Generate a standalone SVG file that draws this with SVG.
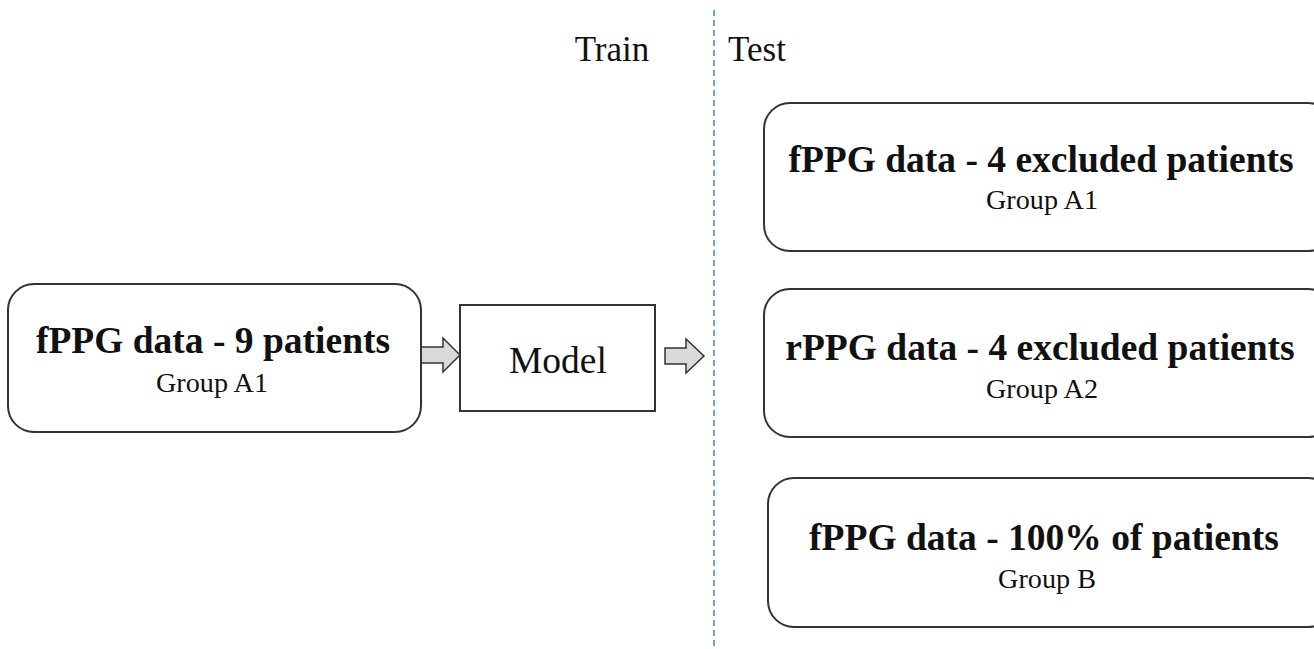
<svg xmlns="http://www.w3.org/2000/svg" width="1314" height="649" viewBox="0 0 1314 649">
<style>
.box{fill:#fff;stroke:#333;stroke-width:2}
.t{font-family:"Liberation Serif","Times New Roman",serif;fill:#111;text-anchor:middle}
.b{font-weight:bold;font-size:37.5px}
.s{font-size:28.2px}
.arr{fill:#d9d9d9;stroke:#333;stroke-width:1.5}
</style>
<rect width="1314" height="649" fill="#fff"/>
<g id="connectors">
<line x1="714" y1="10" x2="714" y2="649" stroke="#5b9bd5" stroke-width="1.8" stroke-dasharray="6,4"/>
<path class="arr" d="M420,347 H443 V338 L460,355 L443,372 V363 H420 Z"/>
<path class="arr" d="M665,348 H686 V339 L704,356 L686,373 V364 H665 Z"/>
</g>
<text class="t" x="612" y="61" style="font-size:35px">Train</text>
<text class="t" x="757" y="61" style="font-size:35px">Test</text>
<g id="n-train-data">
<rect class="box" x="8" y="284" width="413" height="148" rx="26"/>
<text class="t b" x="213" y="353">fPPG data - 9 patients</text>
<text class="t s" x="212" y="392">Group A1</text>
</g>
<g id="n-model">
<rect class="box" x="460" y="305" width="195" height="106"/>
<text class="t" x="558" y="373" style="font-size:37.5px">Model</text>
</g>
<g id="n-test1">
<rect class="box" x="764" y="103" width="570" height="148" rx="26"/>
<text class="t b" x="1041" y="172">fPPG data - 4 excluded patients</text>
<text class="t s" x="1042" y="209">Group A1</text>
</g>
<g id="n-test2">
<rect class="box" x="764" y="289" width="570" height="148" rx="26"/>
<text class="t b" x="1040" y="360">rPPG data - 4 excluded patients</text>
<text class="t s" x="1042" y="398">Group A2</text>
</g>
<g id="n-test3">
<rect class="box" x="768" y="478" width="566" height="149" rx="26"/>
<text class="t b" x="1044" y="550">fPPG data - 100% of patients</text>
<text class="t s" x="1047" y="588">Group B</text>
</g>
</svg>
